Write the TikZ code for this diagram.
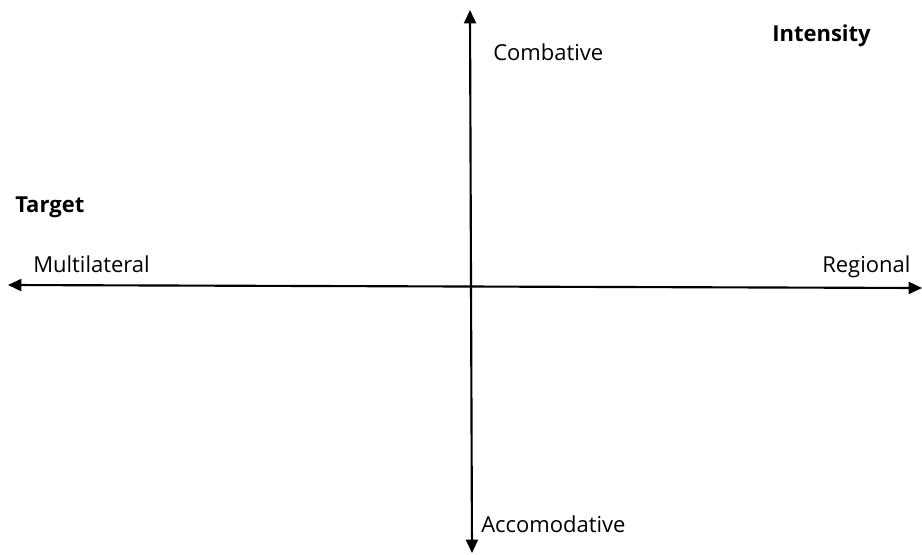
\documentclass[tikz,border=0pt]{standalone}
\usepackage{fontspec}
\setmainfont{Open Sans}
\usetikzlibrary{arrows.meta}

\begin{document}
\begin{tikzpicture}[
  x=0.75pt, y=-0.75pt,
  axis/.style={line width=1.6pt, {Triangle[length=10pt, width=9pt]}-{Triangle[length=10pt, width=9pt]}},
  label/.style={anchor=base west, inner sep=0pt, font=\fontsize{16.5}{19}\selectfont},
  heading/.style={label, font=\fontsize{16.5}{19}\selectfont\bfseries},
]
\useasboundingbox (0,0) rectangle (922,554);

\coordinate (left) at (8,285);
\coordinate (right) at (922,288);
\coordinate (top) at (470,10);
\coordinate (bottom) at (472,553);

\draw[axis] (left) -- (right);
\draw[axis] (top) -- (bottom);

\node[label] (combative) at (493,60) {Combative};
\node[heading] (intensity) at (772,41) {Intensity};
\node[heading] (target) at (15,212) {Target};
\node[label] (multilateral) at (33,272) {Multilateral};
\node[label] (regional) at (822,272) {Regional};
\node[label] (accomodative) at (481,532) {Accomodative};

\end{tikzpicture}
\end{document}
